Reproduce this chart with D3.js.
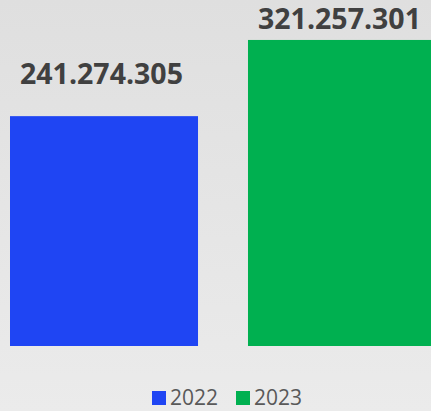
<!DOCTYPE html>
<html>
<head>
<meta charset="utf-8">
<script src="https://cdn.jsdelivr.net/npm/d3@7"></script>
<style>
  body { margin: 0; }
  #canvas { width: 431px; height: 411px; overflow: hidden; }
</style>
</head>
<body>
<div id="canvas"></div>
<script>
let years = ['2022', '2023'];
let values = [241274305, 321257301];
let labels = ['241.274.305', '321.257.301'];
let colors = ['#1f45f3', '#00b050'];

let width = 431, height = 411;

let svg = d3.select('#canvas').append('svg')
  .attr('width', width)
  .attr('height', height);

let grad = svg.append('defs').append('linearGradient')
  .attr('id', 'bg')
  .attr('x1', 0).attr('y1', 0).attr('x2', 0).attr('y2', 1);
grad.append('stop').attr('offset', '0%').attr('stop-color', '#dfdfdf');
grad.append('stop').attr('offset', '100%').attr('stop-color', '#ebebeb');

svg.append('rect')
  .attr('width', width)
  .attr('height', height)
  .attr('fill', 'url(#bg)');

let x = d3.scaleBand()
  .domain(years)
  .range([10, 436])
  .paddingInner(0.21)
  .paddingOuter(0);

let y = d3.scaleLinear()
  .domain([0, 363200000])
  .range([346, 0]);

svg.selectAll('rect.bar')
  .data(values)
  .enter()
  .append('rect')
  .attr('class', 'bar')
  .attr('x', function(d, i) { return x(years[i]); })
  .attr('y', function(d) { return y(d); })
  .attr('width', x.bandwidth())
  .attr('height', function(d) { return y(0) - y(d); })
  .attr('fill', function(d, i) { return colors[i]; });

// labels sit above the bar, pushed down if they would leave the top
svg.selectAll('text.label')
  .data(values)
  .enter()
  .append('text')
  .attr('class', 'label')
  .attr('x', function(d, i) { return x(years[i]) + x.bandwidth() / 2 - 2.5; })
  .attr('y', function(d) { return Math.max(y(d) - 32, 29); })
  .attr('text-anchor', 'middle')
  .style('font-family', '"Open Sans", sans-serif')
  .style('font-weight', 'bold')
  .style('font-size', '28.5px')
  .attr('fill', '#404040')
  .text(function(d, i) { return labels[i]; });

let legend = svg.append('g');
let legendX = [152, 236];

legend.selectAll('rect')
  .data(years)
  .enter()
  .append('rect')
  .attr('x', function(d, i) { return legendX[i]; })
  .attr('y', 391)
  .attr('width', 14)
  .attr('height', 14)
  .attr('fill', function(d, i) { return colors[i]; });

legend.selectAll('text')
  .data(years)
  .enter()
  .append('text')
  .attr('x', function(d, i) { return legendX[i] + 18; })
  .attr('y', 405)
  .style('font-family', '"Open Sans", sans-serif')
  .style('font-size', '21px')
  .attr('fill', '#595959')
  .text(function(d) { return d; });
</script>
</body>
</html>
